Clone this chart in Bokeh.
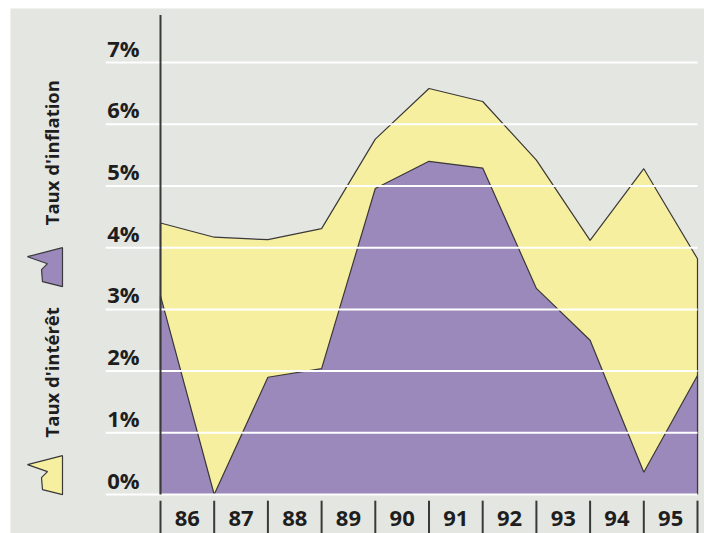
import math
from bokeh.plotting import figure
from bokeh.models import Range1d
from bokeh.core.properties import value
from bokeh.embed import file_html
from bokeh.resources import INLINE

# ---- data ----
years = ["86", "87", "88", "89", "90", "91", "92", "93", "94", "95"]
point_x = [0, 1, 2, 3, 4, 5, 6, 7, 8, 9, 10]          # year boundaries
interet = [4.40, 4.17, 4.13, 4.31, 5.76, 6.58, 6.37, 5.42, 4.12, 5.28, 3.82]
inflation = [3.22, 0.00, 1.90, 2.04, 4.96, 5.40, 5.29, 3.34, 2.50, 0.36, 1.93]
y_ticks = [0, 1, 2, 3, 4, 5, 6, 7]
y_labels = ["0%", "1%", "2%", "3%", "4%", "5%", "6%", "7%"]
legend_labels = ["Taux d'intérêt", "Taux d'inflation"]

# ---- style ----
BG = "#e4e6e2"
YELLOW = "#f6ef9f"
PURPLE = "#9b89bb"
DARK = "#3a3838"
FONT = value("Open Sans")

W, H = 704, 533
LEFT, TOP = 10, 8          # white scan margin
PX_X = 53.7                # pixels per x unit
PX_Y = 61.7                # pixels per y unit
X0 = 160 - LEFT            # frame px of x=0
Y0 = 494 - TOP             # frame px of y=0
FW, FH = W - LEFT, H - TOP

p = figure(width=W, height=H, output_backend="svg", toolbar_location=None,
           x_range=Range1d(-X0 / PX_X, (FW - X0) / PX_X),
           y_range=Range1d(-(FH - Y0) / PX_Y, Y0 / PX_Y),
           min_border=0, min_border_left=LEFT, min_border_top=TOP, tools="")
p.axis.visible = False
p.grid.visible = False
p.outline_line_color = None
p.background_fill_color = BG
p.border_fill_color = "white"

# areas (overlapping, not stacked)
xs_area = point_x + [point_x[-1], point_x[0]]
p.patch(xs_area, interet + [0, 0], fill_color=YELLOW, line_color=DARK, line_width=1.2)
p.patch(xs_area, inflation + [0, 0], fill_color=PURPLE, line_color=DARK, line_width=1.2)

# white grid lines on top
grid_left = -1.02
p.segment(x0=[grid_left] * len(y_ticks), y0=y_ticks,
          x1=[point_x[-1]] * len(y_ticks), y1=y_ticks,
          line_color="white", line_width=2)

# y axis line
p.segment(x0=[0], y0=[0], x1=[0], y1=[7.77], line_color=DARK, line_width=2)

# y labels (above their grid lines)
p.text(x=[-0.39] * len(y_ticks), y=y_ticks, text=y_labels,
       text_font=FONT, text_font_style="bold", text_font_size="22px",
       text_color="#1e1e1e", text_align="right", text_baseline="middle",
       y_offset=-15)

# x separators
p.segment(x0=point_x, y0=[-0.1] * len(point_x), x1=point_x, y1=[-0.8] * len(point_x),
          line_color=DARK, line_width=2)

# x labels centered between separators
p.text(x=[i + 0.5 for i in range(len(years))], y=[0] * len(years), text=years,
       text_font=FONT, text_font_style="bold", text_font_size="22px",
       text_color="#1e1e1e", text_align="center", text_baseline="middle",
       y_offset=24)

# legend: icons
shape = [(-35, 9), (0, 0), (0, 39), (-20, 34), (-21, 22), (-15, 16)]
anchors = [(-1.825, 0.63, YELLOW), (-1.825, 4.00, PURPLE)]
for ax, ay, col in anchors:
    p.patch([ax + dx / PX_X for dx, dy in shape], [ay - dy / PX_Y for dx, dy in shape],
            fill_color=col, line_color=DARK, line_width=1.2)

# legend: rotated texts
p.text(x=[-2.03, -2.03], y=[1.98, 5.54], text=legend_labels, angle=math.pi / 2,
       text_font=FONT, text_font_style="bold", text_font_size="18.5px",
       text_color="#1e1e1e", text_align="center", text_baseline="middle")

open("out.html", "w").write(file_html(p, INLINE))
